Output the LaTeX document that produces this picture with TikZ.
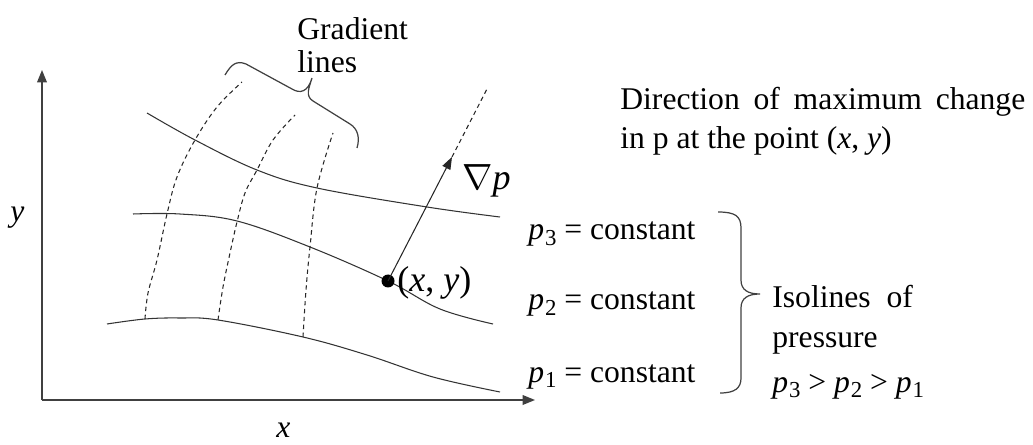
\documentclass[tikz,border=0pt]{standalone}
\usepackage{fontspec}
\setmainfont{Liberation Serif}
\usetikzlibrary{arrows.meta}
\newcommand{\psub}[1]{\textit{p}\kern0.5pt\raisebox{-0.4ex}{\fontsize{13}{13}\selectfont #1}}
\begin{document}
\begin{tikzpicture}[x=0.02cm,y=-0.02cm,
  curve/.style={line width=0.6pt, draw=black!80},
  gline/.style={line width=0.6pt, draw=black!85, dash pattern=on 2.5pt off 2pt},
  axis/.style={line width=0.75pt, draw=black!75, -{Triangle[length=7pt,width=5.5pt]}},
  arrowline/.style={line width=0.6pt, draw=black!85, -{Triangle[length=7pt,width=5pt]}},
  lbl/.style={inner sep=0pt, anchor=base west, font=\fontsize{18}{24}\selectfont},
  biglbl/.style={lbl, font=\fontsize{20.5}{24}\selectfont},
  bracestyle/.style={line width=0.7pt, draw=black!75}]
\useasboundingbox (0,0) rectangle (1033,445);

% axes
\coordinate (O) at (42,400);
\coordinate (ytop) at (42,70);
\coordinate (xend) at (535,400);
\draw[axis] (O) -- (ytop);
\draw[axis] (O) -- (xend);
\node[lbl] (ylab) at (10,222) {\textit{y}};
\node[lbl] (xlab) at (276,437) {\textit{x}};

% isolines
\draw[curve] plot[smooth, tension=0.6] coordinates {(147,113) (195,140) (257,170) (317,188) (427,207) (500,217)};
\draw[curve] plot[smooth, tension=0.6] coordinates {(133,214) (180,214) (237,221) (310,247) (388,281) (440,309) (493,324)};
\draw[curve] plot[smooth, tension=0.6] coordinates {(107,324) (145,319) (180,318) (218,320) (303,337) (367,355) (433,377) (500,392)};

% gradient lines
\draw[gline] plot[smooth, tension=0.6] coordinates {(145,319) (148,293) (157,260) (167,214) (177,177) (195,140) (217,107) (242,82)};
\draw[gline] plot[smooth, tension=0.6] coordinates {(218,320) (223,287) (230,253) (237,222) (245,193) (257,170) (273,140) (295,115)};
\draw[gline] plot[smooth, tension=0.6] coordinates {(303,337) (306,290) (310,247) (317,188) (333,133)};

% point and gradient
\node[circle, fill=black, inner sep=0pt, minimum size=0.26cm] (pt) at (388,281) {};
\coordinate (grad) at (452,157);
\coordinate (gend) at (488,87);
\draw[arrowline] (pt.center) -- (grad);
\draw[gline] (grad) -- (gend);
\node[biglbl] (nabla) at (462,190) {$\nabla$\textit{p}};
\node[biglbl] (xy) at (397,292) {(\textit{x}, \textit{y})};

% gradient lines brace
\draw[bracestyle] (225,75) .. controls (231,65) and (236,60) .. (246,64)
  -- (292,89) .. controls (300,94) and (308,92) .. (312,78)
  .. controls (309,88) and (305,96) .. (313,101)
  -- (350,124) .. controls (358,129) and (360,138) .. (357,148);
\node[lbl] (grad1) at (297,40) {Gradient};
\node[lbl] (grad2) at (297,73) {lines};

% direction text
\node[lbl] (dir1) at (620,110) {\makebox[8.1cm][s]{Direction of maximum change}};
\node[lbl] (dir2) at (620,149) {in p at the point (\textit{x}, \textit{y})};

% isoline labels
\node[lbl] (p3) at (528,240) {\psub{3} = constant};
\node[lbl] (p2) at (528,310) {\psub{2} = constant};
\node[lbl] (p1) at (528,382) {\psub{1} = constant};

% right brace
\draw[bracestyle] (718,212) .. controls (735,212) and (741,216) .. (741,228)
  -- (741,280) .. controls (741,290) and (748,294) .. (760,294)
  .. controls (748,294) and (741,298) .. (741,308)
  -- (741,378) .. controls (741,388) and (735,393) .. (720,393);
\node[lbl] (iso1) at (772,308) {Isolines\ \ of};
\node[lbl] (iso2) at (772,348) {pressure};
\node[lbl] (iso3) at (772,392) {\psub{3} >\ \psub{2} >\ \psub{1}};
\end{tikzpicture}
\end{document}
